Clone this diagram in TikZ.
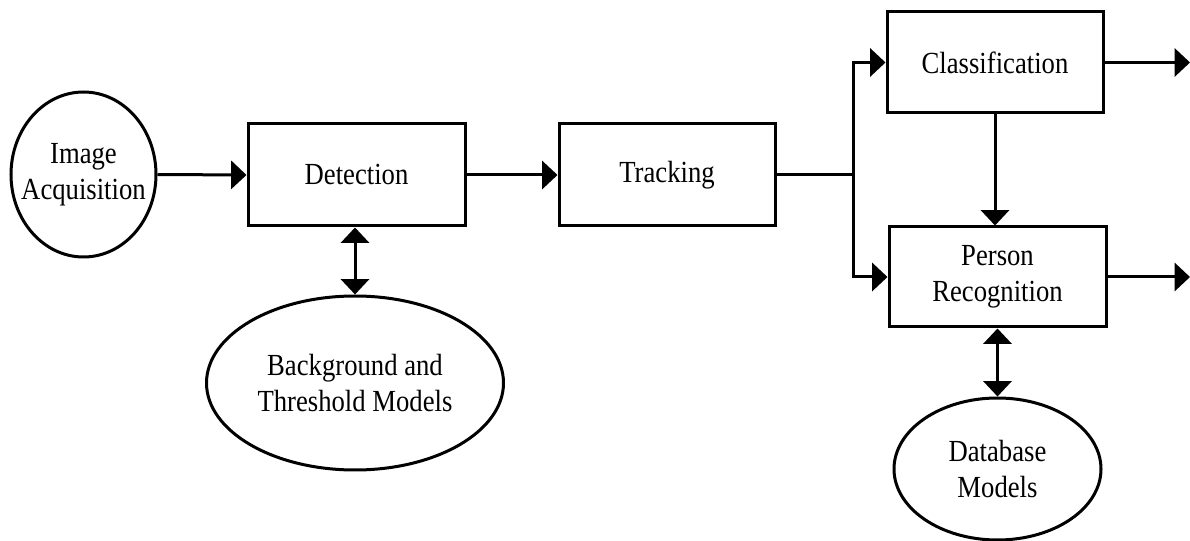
\documentclass[tikz,border=0pt]{standalone}
\usepackage{fontspec}
\setmainfont{Liberation Serif}[FakeStretch=0.87]
\usetikzlibrary{shapes.geometric,arrows.meta}
\begin{document}
\begin{tikzpicture}[x=0.75pt,y=-0.75pt,
  every node/.style={font={\fontsize{23}{27}\selectfont},align=center,line width=2.25pt,inner sep=0pt},
  procbox/.style={draw,rectangle},
  dataell/.style={draw,ellipse},
  conn/.style={line width=2.25pt},
  tip/.style={-{Triangle[length=11.5pt,width=21pt]}},
  dtip/.style={{Triangle[length=11.5pt,width=21pt]}-{Triangle[length=11.5pt,width=21pt]}}]
\fill[white] (0,0) rectangle (1190,541);
\useasboundingbox (0,0) rectangle (1190,541);

\node[dataell,inner xsep=-9pt,minimum width=108.75pt,minimum height=123.75pt] (ia) at (83.5,174.5) {Image\\Acquisition};
\node[procbox,minimum width=162.75pt,minimum height=76.5pt] (det) at (356.5,175) {Detection};
\node[procbox,minimum width=162pt,minimum height=76.5pt] (trk) at (667,175) {Tracking};
\node[procbox,minimum width=162pt,minimum height=75.75pt] (cls) at (995,62.5) {Classification};
\node[procbox,minimum width=162.75pt,minimum height=75pt] (pr) at (997.5,277) {Person\\Recognition};
\node[dataell,minimum width=222.75pt,minimum height=130.5pt] (bg) at (355,383) {Background and\\Threshold Models};
\node[dataell,minimum width=155.25pt,minimum height=106.5pt] (db) at (997.5,469) {Database\\Models};

\coordinate (split) at (853,175);
\coordinate (out1) at (1190,62.5);
\coordinate (out2) at (1190,277);

\draw[conn,tip] (ia.east) -- (det.west);
\draw[conn,tip] (det.east) -- (trk.west);
\draw[conn] (trk.east) -- (split);
\draw[conn,tip] (split) |- (cls.west);
\draw[conn,tip] (split) |- (pr.west);
\draw[conn,tip] (cls.east) -- (out1);
\draw[conn,tip] (pr.east) -- (out2);
\draw[conn,tip] (cls.south) -- (cls.south |- pr.north);
\draw[conn,dtip] (det.south -| bg.north) -- (bg.north);
\draw[conn,dtip] (pr.south) -- (db.north);
\end{tikzpicture}
\end{document}
